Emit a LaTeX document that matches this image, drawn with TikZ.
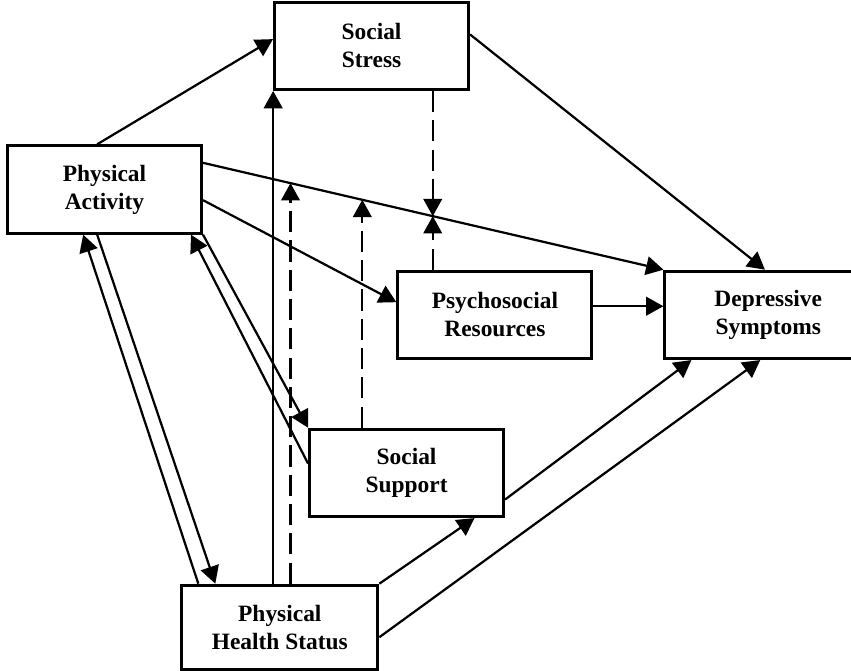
\documentclass[tikz,border=0pt]{standalone}
\usepackage{fontspec}
\setmainfont{Liberation Serif}
\usetikzlibrary{positioning, arrows.meta}

\begin{document}
\begin{tikzpicture}
    [
      RECT/.style={rectangle, draw=black, fill=white, line width = 1.3pt, minimum width = 2.91cm, minimum height = 1.31cm, align = center, font=\bfseries},
      ARROW/.style={-{Triangle[length=2.6mm, width=2.8mm]}, line width = 0.95pt, black},
      DASHEDARROW/.style={ARROW, dash pattern=on 9pt off 3.5pt},
    ]

    \useasboundingbox (-1.5675,2.8425) rectangle (11.1975,-7.2075);

    \node[RECT] (physActivity) {Physical\\Activity};
    \node[RECT] (socialStress) [above right = 0.8cm and 1.05cm of physActivity] {Social\\Stress};
    \node[RECT] (psyResources) [below right = 0.525cm and 2.9cm of physActivity] {Psychosocial\\Resources};
    \node[RECT, minimum width = 3.1cm] (depSymptoms) [right = 1.05cm of psyResources] {Depressive\\Symptoms};
    \node[RECT] (socialSupport) [below right = 2.895cm and 1.575cm of physActivity] {Social\\Support};
    \node[RECT, minimum width = 2.94cm, minimum height = 1.26cm] (physHealth) [below = 5.235cm of physActivity, xshift = 2.63cm] {Physical\\Health Status};
    \coordinate (healthTop) at ([xshift=-0.1cm]physHealth.north);

    \draw[ARROW] ([xshift=-0.11cm]physActivity.north) -- ([yshift=0.1cm]socialStress.west);
    \draw[ARROW] ([yshift=0.17cm]socialStress.east) -- ([xshift=-0.05cm]depSymptoms.north);
    \draw[ARROW] ([yshift=0.4cm]physActivity.east) -- coordinate[pos=0.19] (modHealth) coordinate[pos=0.346] (modSupport) coordinate[pos=0.499] (modStress) (depSymptoms.north west);
    \draw[ARROW] ([yshift=-0.16cm]physActivity.east) -- ([yshift=0.19cm]psyResources.west);
    \draw[ARROW] ([yshift=0.13cm]psyResources.east) -- ([yshift=0.13cm]depSymptoms.west);
    \draw[DASHEDARROW] (modStress |- socialStress.south) -- (modStress);
    \draw[DASHEDARROW] (modStress |- psyResources.north) -- (modStress);
    \draw[DASHEDARROW] (modSupport |- socialSupport.north) -- (modSupport);
    \draw[DASHEDARROW] (modHealth |- physHealth.north) -- (modHealth);
    \draw[ARROW] (healthTop) -- (healthTop |- socialStress.south);
    \draw[ARROW] ([xshift=-0.11cm]physActivity.south) -- ([xshift=0.525cm]physHealth.north west);
    \draw[ARROW] ([xshift=0.27cm]physHealth.north west) -- ([xshift=-0.32cm]physActivity.south);
    \draw[ARROW] ([yshift=0.14cm]socialSupport.west) -- ([xshift=-0.18cm]physActivity.south east);
    \draw[ARROW] (physActivity.south east) -- (socialSupport.north west);
    \draw[ARROW] (physHealth.north east) -- ([xshift=1.02cm]socialSupport.south);
    \draw[ARROW] ([yshift=-0.15cm]physHealth.east) -- ([xshift=-0.12cm]depSymptoms.south);
    \draw[ARROW] ([yshift=-0.4cm]socialSupport.east) -- ([xshift=0.42cm]depSymptoms.south west);

  \end{tikzpicture}
\end{document}
